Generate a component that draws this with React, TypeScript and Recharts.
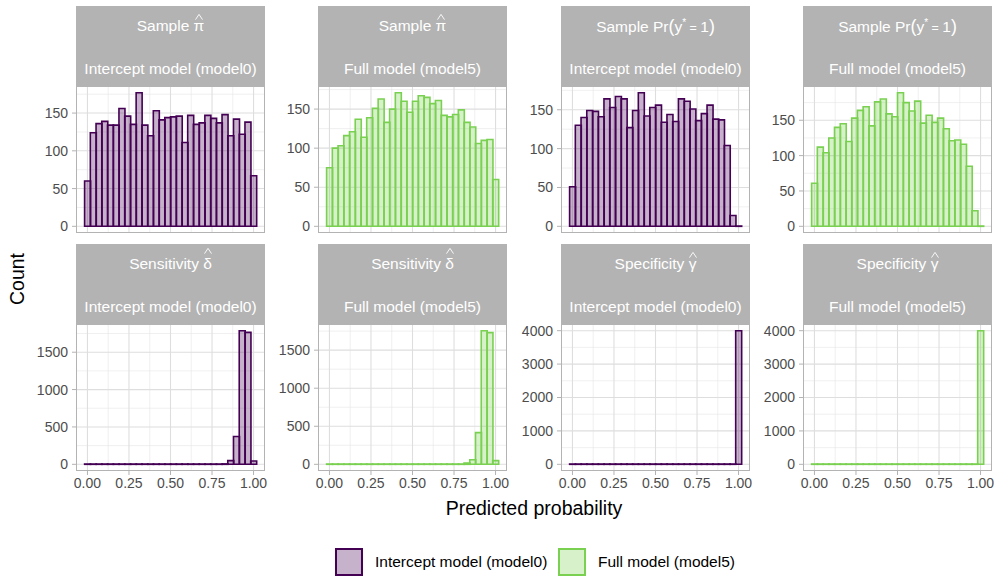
import React from 'react';
import { BarChart, Bar, XAxis, YAxis, CartesianGrid } from 'recharts';

const FONT = "'Liberation Sans', Arial, Helvetica, sans-serif";

// 30 histogram bins spanning [0, 1]
const NBINS = 30;
const binCenters = Array.from({ length: NBINS }, (_, k) => k / (NBINS - 1));

// Sample pi-hat
const interceptPi = [60, 124, 136, 139, 134, 134, 156, 146, 135, 177, 134, 120, 153, 141, 144, 145, 146, 111, 147, 135, 137, 147, 143, 137, 148, 120, 142, 122, 138, 67];
const fullPi = [75, 100, 103, 116, 121, 137, 114, 139, 151, 163, 133, 150, 171, 160, 146, 160, 167, 165, 157, 161, 142, 140, 143, 149, 133, 127, 106, 110, 111, 60];
// Sample Pr(y* = 1)
const interceptPr = [51, 130, 140, 149, 148, 141, 164, 153, 167, 164, 127, 149, 172, 142, 153, 156, 134, 144, 135, 164, 161, 151, 136, 145, 156, 138, 137, 104, 14, 0];
const fullPr = [61, 112, 104, 125, 140, 145, 120, 153, 164, 169, 142, 176, 180, 159, 155, 189, 175, 163, 177, 146, 157, 147, 153, 138, 121, 122, 116, 85, 22, 0];
// Sensitivity delta-hat
const interceptSens = [0, 0, 0, 0, 0, 0, 0, 0, 0, 0, 0, 0, 0, 0, 0, 0, 0, 0, 0, 0, 0, 0, 0, 2, 6, 50, 372, 1788, 1765, 45];
const fullSens = [0, 0, 0, 0, 0, 0, 0, 0, 0, 0, 0, 0, 0, 0, 0, 0, 0, 0, 0, 0, 0, 0, 0, 3, 17, 61, 417, 1756, 1730, 48];
// Specificity gamma-hat
const interceptSpec = [0, 0, 0, 0, 0, 0, 0, 0, 0, 0, 0, 0, 0, 0, 0, 0, 0, 0, 0, 0, 0, 0, 0, 0, 0, 0, 0, 0, 0, 4000];
const fullSpec = [0, 0, 0, 0, 0, 0, 0, 0, 0, 0, 0, 0, 0, 0, 0, 0, 0, 0, 0, 0, 0, 0, 0, 0, 0, 0, 0, 0, 0, 4000];

const xTicks = [0, 0.25, 0.5, 0.75, 1];
const xMinor = [0.125, 0.375, 0.625, 0.875];
const yTicksTop = [0, 50, 100, 150];
const yTicksSens = [0, 500, 1000, 1500];
const yTicksSpec = [0, 1000, 2000, 3000, 4000];

const models = ['Intercept model (model0)', 'Full model (model5)'];
const COLORS = ['#440154', '#7AD151'];

const PW = 189;
const PH = 147;
const AXW = 60;
const RM = 20;
const XH = 30;
const colLeft = [76, 318, 561, 803];
const stripTop = [6, 244];
const STRIPH = 80;

const binW = 1 / (NBINS - 1);
const xLo = -binW / 2;
const xHi = 1 + binW / 2;
const xPad = 0.05 * (xHi - xLo);
const xDomain = [xLo - xPad, xHi + xPad];

const Sup = ({ children }: any) => (
  <span style={{ fontSize: '0.65em', position: 'relative', top: '-0.55em' }}>{children}</span>
);

const Hat = ({ children, tall }: any) => (
  <span style={{ position: 'relative', display: 'inline-block' }}>
    {children}
    <svg
      width={8}
      height={6}
      style={{ position: 'absolute', left: '50%', marginLeft: -4, top: tall ? -7 : -3, overflow: 'visible' }}
    >
      <polyline points="0.5,5.6 4,0.4 7.5,5.6" fill="none" stroke="#FFFFFF" strokeWidth={0.9} />
    </svg>
  </span>
);

const titles: any = {
  pi: <span>Sample <Hat>π</Hat></span>,
  pr: (
    <span>
      Sample Pr<span style={{ fontSize: '1.15em' }}>(</span>y<Sup>*</Sup>
      <span style={{ fontSize: '0.8em' }}> = </span>1<span style={{ fontSize: '1.15em' }}>)</span>
    </span>
  ),
  sens: <span>Sensitivity <Hat tall>δ</Hat></span>,
  spec: <span>Specificity <Hat>γ</Hat></span>,
};

function Panel({ col, row, values, modelIdx, yTicks, title }: any) {
  const left = colLeft[col];
  const sTop = stripTop[row];
  const pTop = sTop + STRIPH;
  const showX = row === 1;
  const max = Math.max(...values);
  const yDomain = [-0.05 * max, 1.05 * max];
  const step = yTicks[1] - yTicks[0];
  const yMinor = yTicks.map((t: number) => t + step / 2).filter((v: number) => v < yDomain[1]);
  const data = binCenters.map((x, i) => ({ x, count: values[i] }));
  const color = COLORS[modelIdx];
  const h = PH + (showX ? XH : 0);
  const w = AXW + PW + RM;
  return (
    <>
      <div
        style={{
          position: 'absolute', left, top: sTop, width: PW, height: STRIPH, background: '#B3B3B3',
          color: '#FFFFFF', fontFamily: FONT, fontSize: 15.5, textAlign: 'center',
        }}
      >
        <div style={{ position: 'absolute', left: 0, width: PW, top: 11, lineHeight: '18px', whiteSpace: 'nowrap' }}>{title}</div>
        <div style={{ position: 'absolute', left: 0, width: PW, top: 53.5, lineHeight: '18px', whiteSpace: 'nowrap' }}>{models[modelIdx]}</div>
      </div>
      <div style={{ position: 'absolute', left: left - AXW, top: pTop, width: w, height: h }}>
        <BarChart width={w} height={h} data={data} margin={{ top: 0, right: RM, bottom: 0, left: 0 }} barCategoryGap={0} barGap={0}>
          <CartesianGrid horizontalValues={yMinor} verticalValues={xMinor} stroke="#E6E6E6" strokeWidth={0.6} />
          <CartesianGrid horizontalValues={yTicks} verticalValues={xTicks} stroke="#DEDEDE" strokeWidth={1.1} />
          <XAxis
            dataKey="x" type="number" domain={xDomain} allowDataOverflow ticks={xTicks} interval={0}
            hide={!showX} height={XH} tickFormatter={(v: number) => v.toFixed(2)}
            tickLine={{ stroke: '#B3B3B3' }} axisLine={false} tickSize={4} tickMargin={3}
            tick={{ fill: '#4D4D4D', fontSize: 14, fontFamily: FONT }}
          />
          <YAxis
            type="number" domain={yDomain} allowDataOverflow ticks={yTicks} interval={0} width={AXW}
            tickLine={{ stroke: '#B3B3B3' }} axisLine={false} tickSize={4} tickMargin={4}
            tick={{ fill: '#4D4D4D', fontSize: 14, fontFamily: FONT }}
          />
          <Bar dataKey="count" fill={color} fillOpacity={0.3} stroke={color} strokeWidth={1.6} minPointSize={0.3} isAnimationActive={false} />
        </BarChart>
      </div>
      <div
        style={{
          position: 'absolute', left, top: pTop, width: PW, height: PH, border: '1px solid #B3B3B3',
          boxSizing: 'border-box', pointerEvents: 'none',
        }}
      />
    </>
  );
}

export default function App() {
  return (
    <div style={{ position: 'absolute', left: 0, top: 0, width: 998, height: 578, background: '#FFFFFF', overflow: 'hidden', fontFamily: FONT }}>
      <Panel col={0} row={0} values={interceptPi} modelIdx={0} yTicks={yTicksTop} title={titles.pi} />
      <Panel col={1} row={0} values={fullPi} modelIdx={1} yTicks={yTicksTop} title={titles.pi} />
      <Panel col={2} row={0} values={interceptPr} modelIdx={0} yTicks={yTicksTop} title={titles.pr} />
      <Panel col={3} row={0} values={fullPr} modelIdx={1} yTicks={yTicksTop} title={titles.pr} />
      <Panel col={0} row={1} values={interceptSens} modelIdx={0} yTicks={yTicksSens} title={titles.sens} />
      <Panel col={1} row={1} values={fullSens} modelIdx={1} yTicks={yTicksSens} title={titles.sens} />
      <Panel col={2} row={1} values={interceptSpec} modelIdx={0} yTicks={yTicksSpec} title={titles.spec} />
      <Panel col={3} row={1} values={fullSpec} modelIdx={1} yTicks={yTicksSpec} title={titles.spec} />

      <div style={{ position: 'absolute', left: 0, top: 279 - 30, width: 34, height: 60 }}>
        <div
          style={{
            position: 'absolute', left: 17, top: 30, transform: 'translate(-50%, -50%) rotate(-90deg)',
            fontSize: 19.5, color: '#000', whiteSpace: 'nowrap', lineHeight: '20px',
          }}
        >
          Count
        </div>
      </div>
      <div style={{ position: 'absolute', left: 76, width: 916, top: 508 - 11, lineHeight: '22px', textAlign: 'center', fontSize: 19.5, color: '#000' }}>
        Predicted probability
      </div>

      <div style={{ position: 'absolute', left: 335, top: 548, width: 28, height: 28, boxSizing: 'border-box', border: `2px solid ${COLORS[0]}`, background: 'rgba(68,1,84,0.3)' }} />
      <div style={{ position: 'absolute', left: 375, top: 562 - 9, lineHeight: '18px', fontSize: 15.5, color: '#000', whiteSpace: 'nowrap' }}>{models[0]}</div>
      <div style={{ position: 'absolute', left: 558, top: 548, width: 28, height: 28, boxSizing: 'border-box', border: `2px solid ${COLORS[1]}`, background: 'rgba(122,209,81,0.3)' }} />
      <div style={{ position: 'absolute', left: 598, top: 562 - 9, lineHeight: '18px', fontSize: 15.5, color: '#000', whiteSpace: 'nowrap' }}>{models[1]}</div>
    </div>
  );
}
